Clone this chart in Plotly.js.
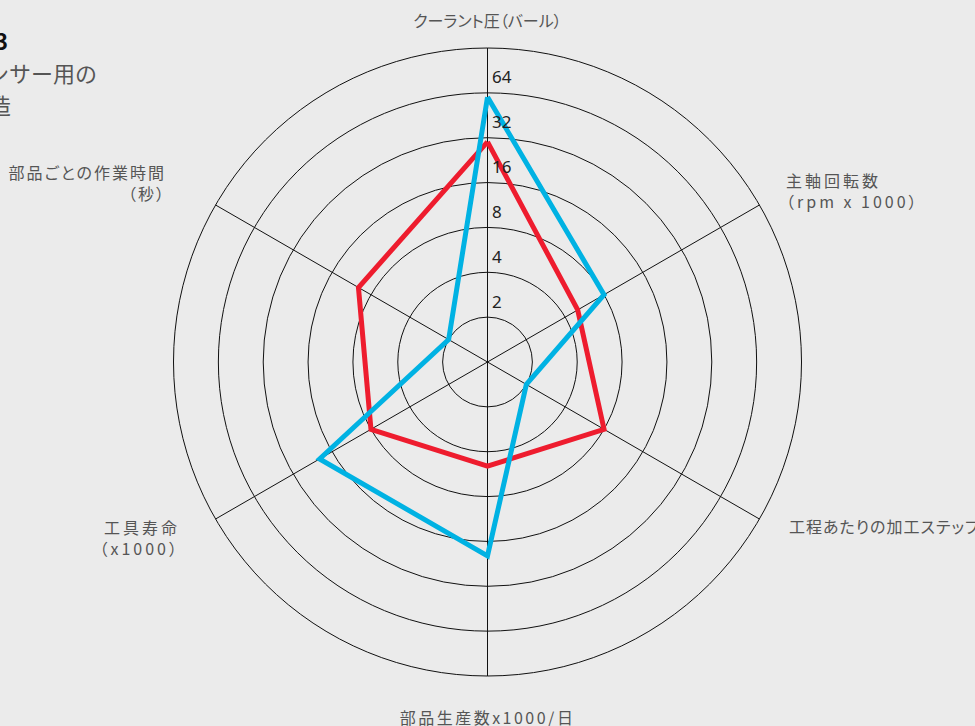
<!DOCTYPE html>
<html>
<head>
<meta charset="utf-8">
<script src="https://cdn.plot.ly/plotly-3.0.1.min.js"></script>
<style>
  html, body { margin: 0; padding: 0; background: #ebebeb; }
  #chart { width: 975px; height: 726px; }
  .angularaxistick text { letter-spacing: 3px; font-feature-settings: "palt" 1; }
</style>
</head>
<body>
<div id="chart"></div>
<script>
// ---- data ----
const categories = [
  'クーラント圧（バール）',
  '主軸回転数<br>（rpm x 1000）',
  '工程あたりの加工ステップ',
  '部品生産数x1000/日',
  '工具寿命<br>（x1000）',
  '部品ごとの作業時間<br>（秒）'
];
const seriesRed = [30, 5, 8, 5, 8, 10];
const seriesBlue = [60, 8, 2, 20, 20, 2];
const radialTickVals = [2, 4, 8, 16, 32, 64];
const radialTickText = ['2', '4', '8', '16', '32', '64'];
const titleLines = ['図3', 'センサー用の', '製造'];

// label nudges in screen pixels (styling only): [prefix, dx, dy, letter-spacing]
const angularLabelNudge = [
  ['クーラント', 0, 13, 0],
  ['主軸回転数', 0, 10, 3],
  ['工程あたり', 3, -14, 1],
  ['部品生産数', 0, 1, 2.5],
  ['工具寿命', -9, -8, 3],
  ['部品ごとの', -23, 2, 2]
];
const radialLabelNudge = [4, -15];

function closed(arr) { return arr.concat([arr[0]]); }

const traces = [
  {
    type: 'scatterpolar', mode: 'lines', name: 'A',
    r: closed(seriesRed), theta: closed(categories),
    line: { color: '#ee1c2e', width: 5 }
  },
  {
    type: 'scatterpolar', mode: 'lines', name: 'B',
    r: closed(seriesBlue), theta: closed(categories),
    line: { color: '#00b2e3', width: 5 }
  }
];

const W = 975, H = 726;
const layout = {
  width: W, height: H,
  margin: { l: 0, r: 0, t: 0, b: 0 },
  paper_bgcolor: '#ebebeb',
  plot_bgcolor: '#ebebeb',
  showlegend: false,
  font: { family: '"Noto Sans CJK JP", "Noto Sans", sans-serif', color: '#555' },
  polar: {
    bgcolor: '#ebebeb',
    domain: { x: [0, 1], y: [50 / H, 678 / H] },
    angularaxis: {
      type: 'category',
      direction: 'clockwise',
      rotation: 90,
      showline: true, linecolor: '#111', linewidth: 1,
      showgrid: true, gridcolor: '#111', gridwidth: 1,
      ticks: 'outside', ticklen: 27, tickcolor: 'rgba(0,0,0,0)',
      tickfont: { size: 16, color: '#555', family: '"Noto Sans CJK JP", sans-serif' }
    },
    radialaxis: {
      type: 'log',
      range: [0, Math.log10(128)],
      angle: 90,
      tickangle: 90,
      tickvals: radialTickVals,
      ticktext: radialTickText,
      showline: false,
      ticks: '',
      showgrid: true, gridcolor: '#111', gridwidth: 1,
      tickfont: { size: 17, color: '#222', family: '"Noto Sans", sans-serif' }
    }
  },
  annotations: [
    { xref: 'paper', yref: 'paper', x: 10 / W, y: 1 - 40 / H, xanchor: 'right', yanchor: 'middle',
      text: '<b>' + titleLines[0] + '</b>', showarrow: false,
      font: { size: 22, color: '#111', family: '"Noto Sans CJK JP", sans-serif' } },
    { xref: 'paper', yref: 'paper', x: 99 / W, y: 1 - 72 / H, xanchor: 'right', yanchor: 'middle',
      text: titleLines[1], showarrow: false,
      font: { size: 22, color: '#555', family: '"Noto Sans CJK JP", sans-serif' } },
    { xref: 'paper', yref: 'paper', x: 13 / W, y: 1 - 104 / H, xanchor: 'right', yanchor: 'middle',
      text: titleLines[2], showarrow: false,
      font: { size: 22, color: '#555', family: '"Noto Sans CJK JP", sans-serif' } }
  ]
};

function shiftScreen(el, dx, dy) {
  const m = el.parentNode.getScreenCTM();
  const det = m.a * m.d - m.b * m.c;
  const lx = (m.d * dx - m.c * dy) / det;
  const ly = (-m.b * dx + m.a * dy) / det;
  const tr = el.getAttribute('transform') || '';
  el.setAttribute('transform', 'translate(' + lx + ',' + ly + ') ' + tr);
}

const gd = document.getElementById('chart');
Plotly.newPlot(gd, traces, layout, { displayModeBar: false, staticPlot: true }).then(function () {
  gd.querySelectorAll('.angularaxistick text').forEach(function (t) {
    const s = t.textContent;
    angularLabelNudge.forEach(function (n) {
      if (s.indexOf(n[0]) === 0) {
        t.style.letterSpacing = n[3] + 'px';
        shiftScreen(t, n[1], n[2]);
      }
    });
  });
  gd.querySelectorAll('.radial-axis text').forEach(function (t) {
    shiftScreen(t, radialLabelNudge[0], radialLabelNudge[1]);
  });
});
</script>
</body>
</html>
